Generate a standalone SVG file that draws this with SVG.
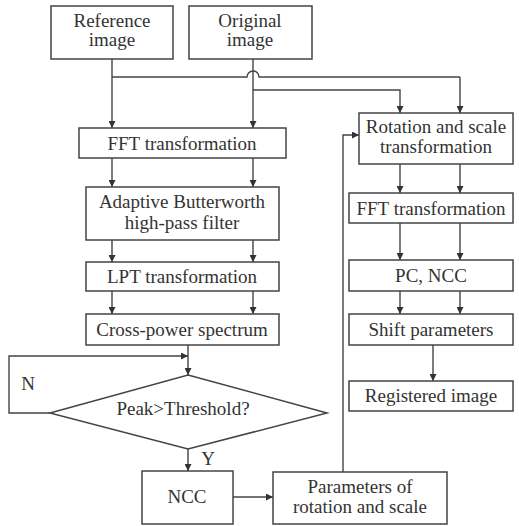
<svg xmlns="http://www.w3.org/2000/svg" width="519" height="526" viewBox="0 0 519 526">
<defs>
<marker id="ah" viewBox="0 0 8 8" refX="8" refY="4" markerWidth="7" markerHeight="7" markerUnits="userSpaceOnUse" orient="auto">
<path d="M0,0 L8,4 L0,8 z" fill="#333"/>
</marker>
</defs>
<rect width="519" height="526" fill="#fff"/>
<g id="connectors" fill="none" stroke="#444" stroke-width="1.4">
<path marker-end="url(#ah)" d="M112,59 V128"/>
<path marker-end="url(#ah)" d="M253,59 V128"/>
<path d="M112,77 H247 A6,6 0 0 1 259,77 H460"/>
<path marker-end="url(#ah)" d="M460,77 V113"/>
<path marker-end="url(#ah)" d="M253,90 H400 V113"/>
<path marker-end="url(#ah)" d="M112,158 V187"/>
<path marker-end="url(#ah)" d="M253,158 V187"/>
<path marker-end="url(#ah)" d="M112,240 V262"/>
<path marker-end="url(#ah)" d="M253,240 V262"/>
<path marker-end="url(#ah)" d="M112,291 V314"/>
<path marker-end="url(#ah)" d="M253,291 V314"/>
<path marker-end="url(#ah)" d="M188,345 V375"/>
<path marker-end="url(#ah)" d="M50,413 H9 V356 H188"/>
<path marker-end="url(#ah)" d="M188,449 V471"/>
<path marker-end="url(#ah)" d="M233,497 H273"/>
<path marker-end="url(#ah)" d="M343,472 V135 H359"/>
<path marker-end="url(#ah)" d="M400,164 V193"/>
<path marker-end="url(#ah)" d="M460,164 V193"/>
<path marker-end="url(#ah)" d="M400,223 V260"/>
<path marker-end="url(#ah)" d="M460,223 V260"/>
<path marker-end="url(#ah)" d="M400,291 V314"/>
<path marker-end="url(#ah)" d="M460,291 V314"/>
<path marker-end="url(#ah)" d="M433,345 V381"/>
</g>
<g id="reference">
<rect fill="#fff" stroke="#444" stroke-width="1.5" x="51" y="6" width="122" height="53"/>
<text style="font-family:'Liberation Serif',serif;font-size:19px" fill="#333" text-anchor="middle" x="112" y="27">Reference</text>
<text style="font-family:'Liberation Serif',serif;font-size:19px" fill="#333" text-anchor="middle" x="112" y="46">image</text>
</g>
<g id="original">
<rect fill="#fff" stroke="#444" stroke-width="1.5" x="189" y="6" width="123" height="53"/>
<text style="font-family:'Liberation Serif',serif;font-size:19px" fill="#333" text-anchor="middle" x="250" y="27">Original</text>
<text style="font-family:'Liberation Serif',serif;font-size:19px" fill="#333" text-anchor="middle" x="250" y="46">image</text>
</g>
<g id="fft1">
<rect fill="#fff" stroke="#444" stroke-width="1.5" x="79" y="128" width="207" height="30"/>
<text style="font-family:'Liberation Serif',serif;font-size:19px" fill="#333" text-anchor="middle" x="182" y="150">FFT transformation</text>
</g>
<g id="butterworth">
<rect fill="#fff" stroke="#444" stroke-width="1.5" x="86" y="187" width="193" height="53"/>
<text style="font-family:'Liberation Serif',serif;font-size:19px" fill="#333" text-anchor="middle" x="182" y="208">Adaptive Butterworth</text>
<text style="font-family:'Liberation Serif',serif;font-size:19px" fill="#333" text-anchor="middle" x="182" y="229">high-pass filter</text>
</g>
<g id="lpt">
<rect fill="#fff" stroke="#444" stroke-width="1.5" x="86" y="262" width="193" height="29"/>
<text style="font-family:'Liberation Serif',serif;font-size:19px" fill="#333" text-anchor="middle" x="182" y="283">LPT transformation</text>
</g>
<g id="crosspower">
<rect fill="#fff" stroke="#444" stroke-width="1.5" x="86" y="314" width="193" height="31"/>
<text style="font-family:'Liberation Serif',serif;font-size:19px" fill="#333" text-anchor="middle" x="182" y="336">Cross-power spectrum</text>
</g>
<g id="decision">
<path fill="#fff" stroke="#444" stroke-width="1.5" d="M188,375 L327,413 L188,449 L50,413 Z"/>
<text style="font-family:'Liberation Serif',serif;font-size:19px" fill="#333" text-anchor="middle" x="183" y="415">Peak&gt;Threshold?</text>
<text style="font-family:'Liberation Serif',serif;font-size:19px" fill="#333" text-anchor="middle" x="28" y="390">N</text>
<text style="font-family:'Liberation Serif',serif;font-size:19px" fill="#333" text-anchor="middle" x="208" y="465">Y</text>
</g>
<g id="ncc">
<rect fill="#fff" stroke="#444" stroke-width="1.5" x="142" y="471" width="91" height="53"/>
<text style="font-family:'Liberation Serif',serif;font-size:19px" fill="#333" text-anchor="middle" x="187" y="503">NCC</text>
</g>
<g id="params">
<rect fill="#fff" stroke="#444" stroke-width="1.5" x="273" y="472" width="174" height="52"/>
<text style="font-family:'Liberation Serif',serif;font-size:19px" fill="#333" text-anchor="middle" x="360" y="493">Parameters of</text>
<text style="font-family:'Liberation Serif',serif;font-size:19px" fill="#333" text-anchor="middle" x="360" y="513">rotation and scale</text>
</g>
<g id="rotation">
<rect fill="#fff" stroke="#444" stroke-width="1.5" x="359" y="113" width="154" height="51"/>
<text style="font-family:'Liberation Serif',serif;font-size:19px" fill="#333" text-anchor="middle" x="436" y="133">Rotation and scale</text>
<text style="font-family:'Liberation Serif',serif;font-size:19px" fill="#333" text-anchor="middle" x="436" y="153">transformation</text>
</g>
<g id="fft2">
<rect fill="#fff" stroke="#444" stroke-width="1.5" x="349" y="193" width="164" height="30"/>
<text style="font-family:'Liberation Serif',serif;font-size:19px" fill="#333" text-anchor="middle" x="431" y="215">FFT transformation</text>
</g>
<g id="pcncc">
<rect fill="#fff" stroke="#444" stroke-width="1.5" x="349" y="260" width="164" height="31"/>
<text style="font-family:'Liberation Serif',serif;font-size:19px" fill="#333" text-anchor="middle" x="431" y="282">PC, NCC</text>
</g>
<g id="shift">
<rect fill="#fff" stroke="#444" stroke-width="1.5" x="349" y="314" width="164" height="31"/>
<text style="font-family:'Liberation Serif',serif;font-size:19px" fill="#333" text-anchor="middle" x="431" y="336">Shift parameters</text>
</g>
<g id="registered">
<rect fill="#fff" stroke="#444" stroke-width="1.5" x="349" y="381" width="164" height="30"/>
<text style="font-family:'Liberation Serif',serif;font-size:19px" fill="#333" text-anchor="middle" x="431" y="402">Registered image</text>
</g>
</svg>
